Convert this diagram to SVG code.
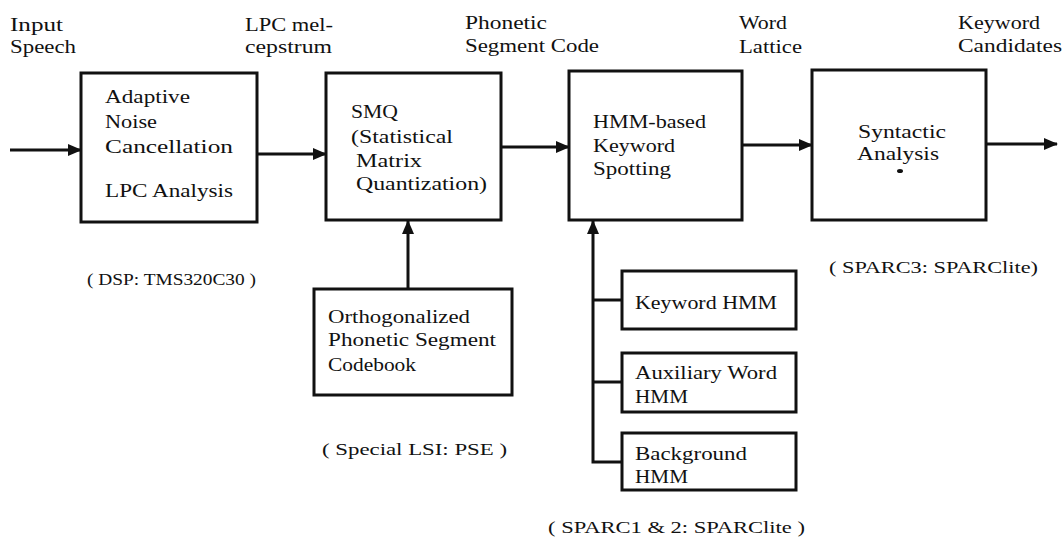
<svg xmlns="http://www.w3.org/2000/svg" width="1064" height="540" viewBox="0 0 1064 540" font-family="'Liberation Serif', 'DejaVu Serif', 'Times New Roman', serif">
  <style>
    text { font-size: 19px; fill: #111; }
    .note { font-size: 16px; }
    .box { fill: #fff; stroke: #111; stroke-width: 3; }
    .wire { fill: none; stroke: #111; stroke-width: 3; }
  </style>
  <defs>
    <marker id="arrow" markerUnits="userSpaceOnUse" markerWidth="14" markerHeight="12" refX="13" refY="6" orient="auto">
      <path d="M0,0 L14,6 L0,12 Z" fill="#111"/>
    </marker>
  </defs>

  <!-- signal labels along the top -->
  <g id="signal-labels">
    <text x="10" y="31" textLength="53" lengthAdjust="spacingAndGlyphs">Input</text>
    <text x="10" y="53" textLength="66" lengthAdjust="spacingAndGlyphs">Speech</text>
    <text x="245" y="31" textLength="88" lengthAdjust="spacingAndGlyphs">LPC mel-</text>
    <text x="245" y="53" textLength="87" lengthAdjust="spacingAndGlyphs">cepstrum</text>
    <text x="465" y="29" textLength="82" lengthAdjust="spacingAndGlyphs">Phonetic</text>
    <text x="465" y="52" textLength="134" lengthAdjust="spacingAndGlyphs">Segment Code</text>
    <text x="739" y="29" textLength="48" lengthAdjust="spacingAndGlyphs">Word</text>
    <text x="739" y="53" textLength="63" lengthAdjust="spacingAndGlyphs">Lattice</text>
    <text x="958" y="29" textLength="82" lengthAdjust="spacingAndGlyphs">Keyword</text>
    <text x="958" y="52" textLength="104" lengthAdjust="spacingAndGlyphs">Candidates</text>
  </g>

  <!-- connectors -->
  <g id="connectors">
    <line class="wire" x1="10" y1="150" x2="81" y2="150" marker-end="url(#arrow)"/>
    <line class="wire" x1="257" y1="154" x2="326" y2="154" marker-end="url(#arrow)"/>
    <line class="wire" x1="501" y1="147" x2="569" y2="147" marker-end="url(#arrow)"/>
    <line class="wire" x1="742" y1="145" x2="812" y2="145" marker-end="url(#arrow)"/>
    <line class="wire" x1="986" y1="144" x2="1057" y2="144" marker-end="url(#arrow)"/>
    <line class="wire" x1="408" y1="289" x2="408" y2="221" marker-end="url(#arrow)"/>
    <path class="wire" d="M622,462 H593 V221" marker-end="url(#arrow)"/>
    <line class="wire" x1="593" y1="300" x2="622" y2="300"/>
    <line class="wire" x1="593" y1="382" x2="622" y2="382"/>
  </g>

  <g id="noise-cancel">
    <rect class="box" x="81" y="73" width="176" height="149"/>
    <text x="105" y="103" textLength="85" lengthAdjust="spacingAndGlyphs">Adaptive</text>
    <text x="105" y="128" textLength="52" lengthAdjust="spacingAndGlyphs">Noise</text>
    <text x="105" y="153" textLength="128" lengthAdjust="spacingAndGlyphs">Cancellation</text>
    <text x="105" y="197" textLength="128" lengthAdjust="spacingAndGlyphs">LPC Analysis</text>
  </g>

  <g id="smq">
    <rect class="box" x="326" y="73" width="175" height="147"/>
    <text x="351" y="118" textLength="47" lengthAdjust="spacingAndGlyphs">SMQ</text>
    <text x="351" y="143" textLength="102" lengthAdjust="spacingAndGlyphs">(Statistical</text>
    <text x="356" y="167" textLength="66" lengthAdjust="spacingAndGlyphs">Matrix</text>
    <text x="356" y="190" textLength="131" lengthAdjust="spacingAndGlyphs">Quantization)</text>
  </g>

  <g id="keyword-spotting">
    <rect class="box" x="569" y="71" width="173" height="149"/>
    <text x="593" y="128" textLength="113" lengthAdjust="spacingAndGlyphs">HMM-based</text>
    <text x="593" y="152" textLength="82" lengthAdjust="spacingAndGlyphs">Keyword</text>
    <text x="593" y="175" textLength="78" lengthAdjust="spacingAndGlyphs">Spotting</text>
  </g>

  <g id="syntactic">
    <rect class="box" x="812" y="70" width="174" height="150"/>
    <text x="858" y="138" textLength="88" lengthAdjust="spacingAndGlyphs">Syntactic</text>
    <text x="857" y="160" textLength="82" lengthAdjust="spacingAndGlyphs">Analysis</text>
    <ellipse cx="900" cy="171" rx="3" ry="2" fill="#111"/>
  </g>

  <g id="codebook">
    <rect class="box" x="314" y="289" width="198" height="106"/>
    <text x="328" y="323" textLength="142" lengthAdjust="spacingAndGlyphs">Orthogonalized</text>
    <text x="328" y="346" textLength="168" lengthAdjust="spacingAndGlyphs">Phonetic Segment</text>
    <text x="328" y="371" textLength="88" lengthAdjust="spacingAndGlyphs">Codebook</text>
  </g>

  <g id="keyword-hmm">
    <rect class="box" x="622" y="271" width="174" height="58"/>
    <text x="635" y="309" textLength="142" lengthAdjust="spacingAndGlyphs">Keyword HMM</text>
  </g>

  <g id="auxiliary-hmm">
    <rect class="box" x="622" y="353" width="174" height="59"/>
    <text x="635" y="379" textLength="142" lengthAdjust="spacingAndGlyphs">Auxiliary Word</text>
    <text x="635" y="403" textLength="53" lengthAdjust="spacingAndGlyphs">HMM</text>
  </g>

  <g id="background-hmm">
    <rect class="box" x="622" y="433" width="174" height="57"/>
    <text x="635" y="460" textLength="112" lengthAdjust="spacingAndGlyphs">Background</text>
    <text x="635" y="483" textLength="53" lengthAdjust="spacingAndGlyphs">HMM</text>
  </g>

  <!-- hardware annotations -->
  <g id="hardware-notes">
    <text class="note" x="87" y="285" textLength="169" lengthAdjust="spacingAndGlyphs">( DSP: TMS320C30 )</text>
    <text class="note" x="322" y="455" textLength="185" lengthAdjust="spacingAndGlyphs">( Special LSI: PSE )</text>
    <text class="note" x="829" y="273" textLength="209" lengthAdjust="spacingAndGlyphs">( SPARC3: SPARClite)</text>
    <text class="note" x="548" y="533" textLength="257" lengthAdjust="spacingAndGlyphs">( SPARC1 &amp; 2: SPARClite )</text>
  </g>
</svg>
